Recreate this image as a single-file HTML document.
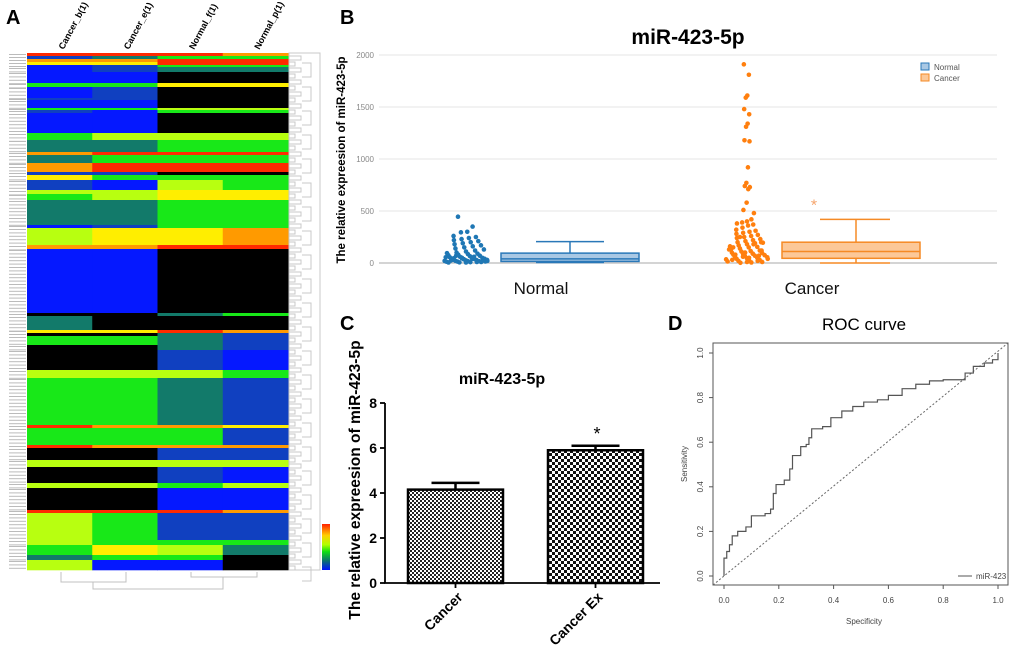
<!DOCTYPE html>
<html><head><meta charset="utf-8"><style>
html,body{margin:0;padding:0;background:#fff;}
svg{display:block;font-family:"Liberation Sans",Arial,sans-serif;}
</style></head><body>
<svg id="fig" width="1020" height="658" viewBox="0 0 1020 658">
<defs>
<pattern id="chkFine" width="4" height="4" patternUnits="userSpaceOnUse"><rect width="4" height="4" fill="#fff"/><rect width="2" height="2" fill="#222"/><rect x="2" y="2" width="2" height="2" fill="#222"/></pattern>
<pattern id="chkCoarse" width="6" height="6" patternUnits="userSpaceOnUse"><rect width="6" height="6" fill="#fff"/><rect width="3" height="3" fill="#111"/><rect x="3" y="3" width="3" height="3" fill="#111"/></pattern>
<linearGradient id="cbar" x1="0" y1="0" x2="0" y2="1"><stop offset="0" stop-color="#ff2000"/><stop offset="0.25" stop-color="#ffd000"/><stop offset="0.45" stop-color="#b0ff00"/><stop offset="0.6" stop-color="#10e010"/><stop offset="0.8" stop-color="#0a7070"/><stop offset="1" stop-color="#0010ff"/></linearGradient>
</defs>
<g id="panelA"></g>
<g id="panelB"></g>
<g id="panelC"></g>
<g id="panelD"></g>
</svg>
<script>
const NS="http://www.w3.org/2000/svg";
function mk(parent,tag,attrs,text){const e=document.createElementNS(NS,tag);for(const k in attrs)e.setAttribute(k,attrs[k]);if(text!==undefined)e.textContent=text;parent.appendChild(e);return e;}

/* ---------- Panel A data ---------- */
const heatColumns=["Cancer_b(1)","Cancer_e(1)","Normal_f(1)","Normal_p(1)"];
const heatColors={R:"#ff2a00",O:"#ff9a00",Y:"#ffee00",L:"#b8ff10",G:"#18e818",T:"#127a6a",B:"#0518ff",D:"#1040c0",K:"#000000"};
// [rowHeightPx, col1, col2, col3, col4]
const heatRows=[[3,"R","R","R","O"],[3,"D","T","G","G"],[3,"O","O","R","R"],[3,"Y","Y","R","R"],[2,"B","D","G","G"],[5,"B","D","T","T"],[11,"B","B","K","K"],[4,"G","G","Y","Y"],[11,"B","D","K","K"],[2,"D","D","K","K"],[8,"B","B","K","K"],[2,"G","G","L","L"],[3,"D","B","G","G"],[20,"B","B","K","K"],[7,"G","L","L","L"],[12,"T","T","G","G"],[3,"O","R","R","R"],[8,"T","G","G","G"],[3,"O","R","R","R"],[6,"O","R","R","R"],[3,"D","D","K","K"],[5,"Y","G","G","G"],[10,"D","B","L","G"],[4,"L","L","Y","Y"],[6,"G","L","Y","Y"],[25,"T","T","G","G"],[3,"B","D","G","G"],[17,"L","Y","Y","O"],[4,"O","O","R","R"],[64,"B","B","K","K"],[3,"K","K","T","G"],[14,"T","K","K","K"],[3,"Y","Y","R","O"],[3,"K","K","T","D"],[9,"G","G","T","D"],[5,"K","K","T","D"],[20,"K","K","D","B"],[8,"L","L","L","G"],[47,"G","G","T","D"],[3,"R","O","O","Y"],[17,"G","G","G","D"],[3,"R","O","O","O"],[12,"K","K","D","D"],[7,"L","L","L","L"],[16,"K","K","D","B"],[5,"L","L","G","L"],[22,"K","K","B","B"],[3,"R","R","R","O"],[27,"L","G","D","D"],[5,"L","G","G","G"],[10,"G","Y","L","T"],[5,"T","G","G","K"],[10,"L","B","B","K"]];
(function(){
 const g=document.getElementById('panelA');
 const x0=27,cw=65.25,y0=53;
 const lab=mk(g,'text',{x:6,y:24,'font-size':20,'font-weight':'bold'},'A');
 
 let y=y0;
 heatRows.forEach((r,i)=>{
  for(let c=0;c<4;c++){const cell=mk(g,'rect',{x:x0+c*cw,y:y,width:cw+0.5,height:r[0]+0.3,fill:heatColors[r[c+1]]});
   }
  // tiny row-label stand-ins
  for(let k=0;k<r[0];k+=3.4){mk(g,'rect',{x:9,y:y+k+1,width:17,height:1,fill:'#bbb'});}
  y+=r[0];
 });
 const yEnd=y;
 heatColumns.forEach((t,c)=>{const cx=x0+c*cw+cw/2+4;
  const tl=mk(g,'text',{x:cx,y:50,'font-size':9,'font-weight':'bold',transform:`rotate(-62 ${cx} 50)`},t);
  });
 // right dendrogram approximation
 const dg=mk(g,'g',{stroke:'#c8c8c8','stroke-width':1,fill:'none'});
 
 mk(dg,'rect',{x:289,y:y0,width:31,height:yEnd-y0});
 for(let yy=y0+3;yy<yEnd;yy+=6){const w=4+((yy*7)%12);mk(dg,'path',{d:`M289 ${yy}H${289+w}V${yy+4}H289`});}
 for(let yy=y0+10;yy<yEnd;yy+=24){mk(dg,'path',{d:`M302 ${yy}H${308+(yy%6)}V${yy+14}H302`});}
 // column dendrogram
 const cd=mk(g,'g',{stroke:'#c0c0c0','stroke-width':1,fill:'none'});
 
 mk(cd,'path',{d:'M61 572V582H126V572M191 572V577H257V572M93 582V589H223V577'});
 const cb=mk(g,'rect',{x:322,y:524,width:8,height:46,fill:'url(#cbar)'});
 
})();

/* ---------- Panel B data ---------- */
const bTicks=[0,500,1000,1500,2000];
const bGroups=["Normal","Cancer"];
const normalDots=[445,350,300,295,260,250,240,230,220,210,200,190,180,170,160,150,140,130,120,110,100,95,90,85,80,75,70,65,60,55,50,48,45,42,40,38,35,32,30,28,25,22,20,18,16,14,12,10,8,6,5,30,40,50,25,15,60,35,45,20,10,5,70,55];
const cancerDots=[1910,1810,1610,1590,1480,1430,1340,1310,1180,1170,920,770,740,730,710,580,510,480,420,400,390,380,370,360,340,320,310,300,290,280,270,260,250,240,230,220,210,200,195,190,180,170,160,155,150,140,130,120,115,110,100,95,90,85,80,75,70,65,60,55,50,45,40,35,30,25,20,15,10,5,2,150,120,90,60,30,200,180,100,80,40,20,10,250,130,70,50];
const normalBox={min:5,q1:15,med:40,q3:95,max:205};
const cancerBox={min:0,q1:45,med:110,q3:200,max:420};
const cancerOutlierStar=[580];
(function(){
 const g=document.getElementById('panelB');
 const yS=v=>263-v*(208/2000);
 const l=mk(g,'text',{x:340,y:24,'font-size':20,'font-weight':'bold'},'B');
 const t=mk(g,'text',{x:688,y:44,'font-size':21,'font-weight':'bold','text-anchor':'middle'},'miR-423-5p');
 const yt=mk(g,'text',{x:345,y:160,'font-size':11.5,'font-weight':'bold','text-anchor':'middle',transform:'rotate(-90 345 160)'},'The relative expreesion of miR-423-5p');
 bTicks.forEach(v=>{if(v>0){const gl=mk(g,'line',{x1:379,x2:997,y1:yS(v),y2:yS(v),stroke:'#e6e6e6','stroke-width':1});}
  const tk=mk(g,'text',{x:374,y:yS(v)+3,'font-size':8,fill:'#888','text-anchor':'end'},String(v));});
 const ax=mk(g,'line',{x1:379,x2:997,y1:263,y2:263,stroke:'#aaa','stroke-width':1});
 const groupX=[541,812];
 bGroups.forEach((n,i)=>{const gt=mk(g,'text',{x:groupX[i],y:294,'font-size':17,'text-anchor':'middle',fill:'#111'},n);});
 function dots(arr,cx,spread,col){arr.forEach((v,i)=>{const w=spread*(1-Math.min(v,600)/700);const off=(((i*37)%21)/10-1)*w;
  const c=mk(g,'circle',{cx:cx+off,cy:yS(v),r:2.3,fill:col});});}
 dots(normalDots,466,22,'#1f77b4');
 dots(cancerDots,747,22,'#ff7f0e');
 function box(b,x1,x2,cx,c1,c2,fill,stroke){
  const bg=mk(g,'g',{});
  mk(bg,'rect',{x:x1,y:yS(b.q3),width:x2-x1,height:yS(b.q1)-yS(b.q3),fill:fill,stroke:stroke,'stroke-width':1.5});
  mk(bg,'line',{x1:x1,x2:x2,y1:yS(b.med),y2:yS(b.med),stroke:stroke,'stroke-width':1.5});
  mk(bg,'line',{x1:cx,x2:cx,y1:yS(b.q3),y2:yS(b.max),stroke:stroke,'stroke-width':1.5});
  mk(bg,'line',{x1:cx,x2:cx,y1:yS(b.q1),y2:yS(b.min),stroke:stroke,'stroke-width':1.5});
  mk(bg,'line',{x1:c2[0],x2:c2[1],y1:yS(b.max),y2:yS(b.max),stroke:stroke,'stroke-width':1.5});
  mk(bg,'line',{x1:c2[0],x2:c2[1],y1:yS(b.min),y2:yS(b.min),stroke:stroke,'stroke-width':1.5});}
 box(normalBox,501,639,570,'normal',[536,604],'#a9c8e4','#2a78b8');
 box(cancerBox,782,920,856,'cancer',[820,890],'#fcc898','#f58a25');
 cancerOutlierStar.forEach(v=>{const s=mk(g,'text',{x:814,y:yS(v)+8,'font-size':16,fill:'#f5a36a','text-anchor':'middle'},'*');});
 [['Normal','#a9c8e4','#2a78b8',67],['Cancer','#fcc898','#f58a25',78]].forEach(e=>{
  const lg=mk(g,'g',{});
  mk(lg,'rect',{x:921,y:e[3]-4,width:8,height:7,fill:e[1],stroke:e[2]});
  mk(lg,'text',{x:934,y:e[3]+3,'font-size':8,fill:'#555'},e[0]);});
})();

/* ---------- Panel C data ---------- */
const cCategories=["Cancer","Cancer Ex"];
const cValues=[4.15,5.9];
const cErrors=[0.3,0.2];
const cTicks=[0,2,4,6,8];
(function(){
 const g=document.getElementById('panelC');
 const yS=v=>583-v*22.5;
 const l=mk(g,'text',{x:340,y:330,'font-size':20,'font-weight':'bold'},'C');
 const t=mk(g,'text',{x:502,y:384,'font-size':16,'font-weight':'bold','text-anchor':'middle'},'miR-423-5p');
 const yt=mk(g,'text',{x:360,y:480,'font-size':15.5,'font-weight':'bold','text-anchor':'middle',transform:'rotate(-90 360 480)'},'The relative expreesion of miR-423-5p');
 const ax=mk(g,'path',{d:'M385 403V583H660',stroke:'#000','stroke-width':1.8,fill:'none'});
 cTicks.forEach(v=>{mk(g,'line',{x1:380,x2:385,y1:yS(v),y2:yS(v),stroke:'#000','stroke-width':1.8});
  const tk=mk(g,'text',{x:377,y:yS(v)+5,'font-size':14,'font-weight':'bold','text-anchor':'end'},String(v));});
 const bx=[408,548],bw=95,pats=['url(#chkFine)','url(#chkCoarse)'];
 cCategories.forEach((c,i)=>{const cx=bx[i]+bw/2;
  const b=mk(g,'rect',{x:bx[i],y:yS(cValues[i]),width:bw,height:yS(0)-yS(cValues[i]),fill:pats[i],stroke:'#000','stroke-width':2.5});
  const e=mk(g,'path',{d:`M${cx} ${yS(cValues[i])}V${yS(cValues[i]+cErrors[i])}M${cx-24} ${yS(cValues[i]+cErrors[i])}H${cx+24}`,stroke:'#000','stroke-width':2.5,fill:'none'});
  mk(g,'line',{x1:cx,x2:cx,y1:583,y2:588,stroke:'#000','stroke-width':1.8});
  const tl=mk(g,'text',{x:cx+8,y:598,'font-size':14,'font-weight':'bold','text-anchor':'end',transform:`rotate(-45 ${cx+8} 598)`},c);});
 const s=mk(g,'text',{x:597,y:440,'font-size':18,'text-anchor':'middle'},'*');
})();

/* ---------- Panel D data ---------- */
const rocSpec=[0,0,0.01,0.02,0.03,0.05,0.08,0.10,0.15,0.17,0.18,0.19,0.22,0.24,0.25,0.28,0.30,0.31,0.32,0.36,0.39,0.42,0.43,0.47,0.51,0.56,0.60,0.65,0.70,0.75,0.80,0.86,0.88,0.91,0.95,0.98,1,1];
const rocSens=[0,0.08,0.11,0.14,0.18,0.20,0.22,0.27,0.28,0.30,0.37,0.41,0.43,0.48,0.54,0.58,0.59,0.62,0.66,0.67,0.71,0.71,0.74,0.76,0.78,0.79,0.81,0.84,0.86,0.875,0.88,0.88,0.91,0.94,0.955,0.97,0.97,1];
const dTicks=[0,0.2,0.4,0.6,0.8,1.0];
(function(){
 const g=document.getElementById('panelD');
 const xS=v=>724+v*274, yS=v=>576-v*223;
 const l=mk(g,'text',{x:668,y:330,'font-size':20,'font-weight':'bold'},'D');
 const t=mk(g,'text',{x:864,y:330,'font-size':17,'text-anchor':'middle'},'ROC curve');
 const fr=mk(g,'rect',{x:713,y:343,width:295,height:242,fill:'none',stroke:'#555','stroke-width':1});
 dTicks.forEach(v=>{
  mk(g,'line',{x1:xS(v),x2:xS(v),y1:585,y2:589,stroke:'#555'});
  const xt=mk(g,'text',{x:xS(v),y:603,'font-size':8,fill:'#444','text-anchor':'middle'},v.toFixed(1));
  mk(g,'line',{x1:709,x2:713,y1:yS(v),y2:yS(v),stroke:'#555'});
  const yt=mk(g,'text',{x:703,y:yS(v),'font-size':8,fill:'#444','text-anchor':'middle',transform:`rotate(-90 703 ${yS(v)})`},v.toFixed(1));});
 const xl=mk(g,'text',{x:864,y:624,'font-size':8,fill:'#444','text-anchor':'middle'},'Specificity');
 const ylb=mk(g,'text',{x:687,y:464,'font-size':8,fill:'#444','text-anchor':'middle',transform:'rotate(-90 687 464)'},'Sensitivity');
 const dg=mk(g,'line',{x1:713,y1:585,x2:1008,y2:343,stroke:'#666','stroke-width':1,'stroke-dasharray':'2,2'});
 let d='';rocSpec.forEach((s,i)=>{d+=(i?(` H${xS(s)} V${yS(rocSens[i])}`):`M${xS(s)} ${yS(rocSens[i])}`);});
 const p=mk(g,'path',{d:d,fill:'none',stroke:'#555','stroke-width':1.2});
 const lg=mk(g,'g',{});
 mk(lg,'line',{x1:958,x2:972,y1:576,y2:576,stroke:'#555'});
 mk(lg,'text',{x:976,y:579,'font-size':8,fill:'#444'},'miR-423');
})();
</script>
</body></html>
